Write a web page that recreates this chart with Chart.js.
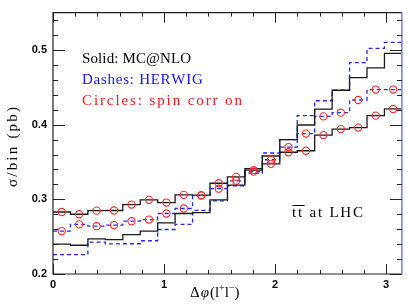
<!DOCTYPE html>
<html>
<head>
<meta charset="utf-8">
<script src="https://cdn.jsdelivr.net/npm/chart.js@4.4.1/dist/chart.umd.min.js"></script>
<style>
html,body{margin:0;padding:0;background:#fff;}
#wrap{width:407px;height:307px;position:relative;}
</style>
</head>
<body>
<div id="wrap"><canvas id="c" width="407" height="307"></canvas></div>
<script>
// ---- data ----
const nBins = 20;
const xMin = 0, xMax = Math.PI;
const yMin = 0.2, yMax = 0.55;
const xTickValues = [0, 1, 2, 3];
const yTickValues = [0.2, 0.3, 0.4, 0.5];
// MC@NLO, no spin correlations (solid, no circles)
const mcnloNoSpin = [0.240,0.2385,0.247,0.246,0.2528,0.2575,0.2684,0.281,0.2822,0.2993,0.319,0.341,0.358,0.380,0.3995,0.4207,0.446,0.463,0.476,0.4954];
// MC@NLO, spin correlations on (solid, circles)
const mcnloSpin = [0.283,0.280,0.2848,0.285,0.293,0.2993,0.2957,0.306,0.3056,0.3215,0.330,0.339,0.3475,0.363,0.365,0.386,0.394,0.396,0.412,0.421];
// HERWIG, no spin correlations (dashed, no circles)
const herwigNoSpin = [0.226,0.226,0.2426,0.2404,0.2405,0.2445,0.2596,0.2665,0.2852,0.298,0.318,0.335,0.362,0.380,0.412,0.432,0.446,0.483,0.502,0.510];
// HERWIG, spin correlations on (dashed, circles)
const herwigSpin = [0.2575,0.2665,0.264,0.2655,0.2707,0.2729,0.281,0.2877,0.305,0.3142,0.3248,0.337,0.353,0.370,0.388,0.411,0.416,0.433,0.447,0.447];

const legendLines = ["Solid: MC@NLO", "Dashes: HERWIG", "Circles: spin corr on"];
const yTitle = "σ/bin (pb)";

// ---- helpers ----
const binW = (xMax - xMin) / nBins;
const edges = Array.from({length: nBins + 1}, (_, i) => xMin + i * binW);
const centers = Array.from({length: nBins}, (_, i) => xMin + (i + 0.5) * binW);
function stepPts(vals){
  const p = vals.map((v,i)=>({x: edges[i], y: v}));
  p.push({x: edges[nBins], y: vals[nBins-1]});
  return p;
}
function ptsAtCenters(vals){ return vals.map((v,i)=>({x: centers[i], y: v})); }

const BLACK = '#1a1a1a', BLUE = '#2424ff', RED = '#ff2a2a';
const SERIF = '"Liberation Serif", "DejaVu Serif", serif';
const SANS = '"Liberation Sans", Arial, sans-serif';

function drawSpaced(ctx, text, x, y, target){
  const w = ctx.measureText(text).width;
  const n = text.length;
  const extra = n > 1 ? (target - w) / (n - 1) : 0;
  let cx = x;
  for (const ch of text){
    ctx.fillText(ch, cx, y);
    cx += ctx.measureText(ch).width + extra;
  }
}

const decor = {
  id: 'decor',
  afterDraw(chart){
    const ctx = chart.ctx;
    const xs = chart.scales.x, ys = chart.scales.y;
    const L = chart.chartArea.left, R = chart.chartArea.right, T = chart.chartArea.top, B = chart.chartArea.bottom;
    ctx.save();
    // frame
    ctx.lineWidth = 1.2;
    ctx.strokeStyle = '#222';
    ctx.beginPath();
    ctx.moveTo(R, T); ctx.lineTo(L, T); ctx.lineTo(L, B); ctx.lineTo(R, B);
    ctx.stroke();
    ctx.strokeStyle = '#8080ff';
    ctx.lineWidth = 1.6;
    ctx.beginPath(); ctx.moveTo(R, T); ctx.lineTo(R, B); ctx.stroke();
    // inward ticks
    ctx.strokeStyle = '#222';
    ctx.lineWidth = 1;
    ctx.beginPath();
    for (let k = 0; k <= 15; k++){
      const v = k * 0.2;
      const px = Math.round(xs.getPixelForValue(v)) + 0.5;
      const major = Math.abs(v - Math.round(v)) < 1e-6;
      const len = major ? 10 : 4;
      ctx.moveTo(px, B); ctx.lineTo(px, B - len);
      ctx.moveTo(px, T); ctx.lineTo(px, T + len);
    }
    for (let k = 0; k <= 17; k++){
      const v = yMin + k * 0.02;
      const py = Math.round(ys.getPixelForValue(v)) + 0.5;
      const major = (k % 5) === 0;
      const len = major ? 12 : 5;
      ctx.moveTo(L, py); ctx.lineTo(L + len, py);
      ctx.moveTo(R, py); ctx.lineTo(R - len, py);
    }
    ctx.stroke();

    // legend text
    ctx.font = '15px ' + SERIF;
    ctx.textBaseline = 'alphabetic';
    ctx.textAlign = 'left';
    ctx.fillStyle = '#000';
    drawSpaced(ctx, legendLines[0], 82, 63, 109);
    ctx.fillStyle = '#1515ff';
    drawSpaced(ctx, legendLines[1], 82, 84, 120);
    ctx.fillStyle = '#ff1515';
    drawSpaced(ctx, legendLines[2], 82, 105, 160);

    // t tbar at LHC
    ctx.fillStyle = '#000';
    ctx.font = '15px ' + SERIF;
    drawSpaced(ctx, 'tt at LHC', 292, 217, 71);
    ctx.strokeStyle = '#000';
    ctx.lineWidth = 1;
    ctx.beginPath(); ctx.moveTo(292.5, 205.5); ctx.lineTo(304.5, 205.5); ctx.stroke();

    // y title
    ctx.save();
    ctx.translate(17, 147);
    ctx.rotate(-Math.PI/2);
    ctx.font = '15px ' + SERIF;
    ctx.textBaseline = 'alphabetic';
    drawSpaced(ctx, yTitle, -40, 0, 80);
    ctx.restore();

    // x title: Δφ(l+l−)
    let x = 190, y = 297;
    ctx.font = '15px ' + SERIF;
    ctx.fillText('Δ', x, y); x += ctx.measureText('Δ').width + 1;
    ctx.font = 'italic 15px ' + SERIF;
    ctx.fillText('φ', x, y); x += ctx.measureText('φ').width + 1;
    ctx.font = '15px ' + SERIF;
    ctx.fillText('(l', x, y); x += ctx.measureText('(l').width;
    ctx.font = '10px ' + SERIF;
    ctx.fillText('+', x, y - 6); x += ctx.measureText('+').width;
    ctx.font = '15px ' + SERIF;
    ctx.fillText('l', x, y); x += ctx.measureText('l').width;
    ctx.font = '10px ' + SERIF;
    ctx.fillText('−', x, y - 6); x += ctx.measureText('−').width;
    ctx.font = '15px ' + SERIF;
    ctx.fillText(')', x, y);
    ctx.restore();
  }
};

const lineDs = (label, vals, color, dash) => ({
  type: 'line', label, data: stepPts(vals), stepped: 'before',
  borderColor: color, borderWidth: 1.3, borderDash: dash, pointRadius: 0, fill: false, order: 2
});
const circDs = (label, vals) => ({
  type: 'scatter', label, data: ptsAtCenters(vals), showLine: false,
  pointStyle: 'circle', pointRadius: 3.6, pointBorderWidth: 1.1,
  pointBorderColor: RED, pointBackgroundColor: 'rgba(0,0,0,0)', order: 1
});

new Chart(document.getElementById('c'), {
  type: 'line',
  data: {
    datasets: [
      lineDs('MC@NLO', mcnloNoSpin, BLACK, []),
      lineDs('MC@NLO spin', mcnloSpin, BLACK, []),
      lineDs('HERWIG', herwigNoSpin, BLUE, [4, 3]),
      lineDs('HERWIG spin', herwigSpin, BLUE, [4, 3]),
      circDs('MC@NLO spin circles', mcnloSpin),
      circDs('HERWIG spin circles', herwigSpin)
    ]
  },
  options: {
    responsive: false,
    animation: false,
    devicePixelRatio: 1,
    layout: { padding: { top: 1, right: 2, left: 0, bottom: 0 } },
    plugins: { legend: { display: false }, tooltip: { enabled: false } },
    scales: {
      x: {
        type: 'linear', min: xMin, max: xMax,
        afterFit(s){ s.height = 33; },
        afterBuildTicks(s){ s.ticks = xTickValues.map(v => ({value: v})); },
        grid: { display: false, drawTicks: false },
        border: { display: false },
        ticks: { color: '#000', font: { family: SANS, size: 11, weight: 'bold' }, padding: 4, maxRotation: 0,
                 callback: v => String(v) }
      },
      y: {
        type: 'linear', min: yMin, max: yMax,
        afterFit(s){ s.width = 53; },
        afterBuildTicks(s){ s.ticks = yTickValues.map(v => ({value: v})); },
        grid: { display: false, drawTicks: false },
        border: { display: false },
        ticks: { color: '#000', font: { family: SANS, size: 11, weight: 'bold' }, padding: 6,
                 callback: v => v.toFixed(1) }
      }
    }
  },
  plugins: [decor]
});
</script>
</body>
</html>
